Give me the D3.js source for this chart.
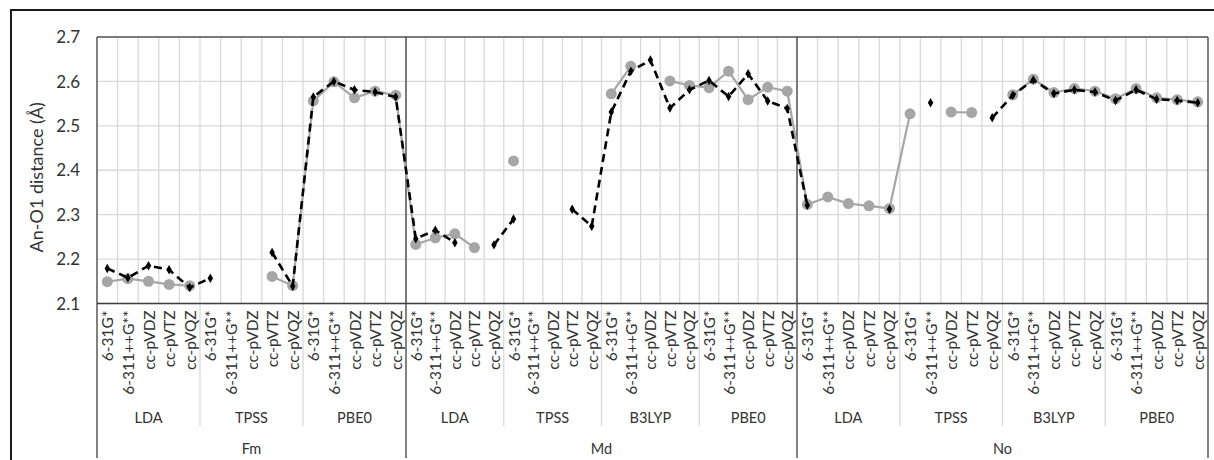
<!DOCTYPE html>
<html><head><meta charset="utf-8">
<script src="https://cdn.jsdelivr.net/npm/d3@7"></script>
<style>body{margin:0;background:#fff}svg{display:block}text{font-family:Lato,"Liberation Sans",sans-serif}</style>
</head><body><svg id="c" width="1214" height="460"></svg>
<script>
const elements = ["Fm", "Md", "No"];
const fmFunctionals = ["LDA", "TPSS", "PBE0"];
const mdFunctionals = ["LDA", "TPSS", "B3LYP", "PBE0"];
const noFunctionals = ["LDA", "TPSS", "B3LYP", "PBE0"];
const basisSets = ["6-31G*", "6-311++G**", "cc-pVDZ", "cc-pVTZ", "cc-pVQZ"];
const yTicks = [2.1, 2.2, 2.3, 2.4, 2.5, 2.6, 2.7];
const yTitle = "An-O1 distance (Å)";

// gray solid series (circles)
const seriesGray = [
  // Fm LDA, TPSS, PBE0
  2.149, 2.156, 2.150, 2.143, 2.140,
  null, null, null, 2.161, 2.140,
  2.556, 2.599, 2.563, 2.578, 2.569,
  // Md LDA, TPSS, B3LYP, PBE0
  2.233, 2.248, 2.257, 2.226, null,
  2.421, null, null, null, null,
  2.572, 2.634, null, 2.601, 2.591,
  2.586, 2.623, 2.559, 2.587, 2.578,
  // No LDA, TPSS, B3LYP, PBE0
  2.323, 2.340, 2.325, 2.320, 2.314,
  2.527, null, 2.531, 2.530, null,
  2.570, 2.605, 2.575, 2.584, 2.578,
  2.561, 2.584, 2.563, 2.559, 2.554
];
// black dashed series (small markers)
const seriesBlack = [
  2.179, 2.158, 2.185, 2.176, 2.136,
  2.157, null, null, 2.215, 2.139,
  2.565, 2.600, 2.581, 2.576, 2.565,
  2.246, 2.265, 2.237, null, 2.232,
  2.290, null, null, 2.312, 2.274,
  2.531, 2.623, 2.648, 2.540, 2.581,
  2.602, 2.566, 2.617, 2.556, 2.539,
  2.321, null, null, null, 2.312,
  null, 2.552, null, null, 2.518,
  2.569, 2.603, 2.573, 2.581, 2.576,
  2.557, 2.581, 2.560, 2.557, 2.552
];

const functionalsByElement = [fmFunctionals, mdFunctionals, noFunctionals];
const groups = [];
const cats = [];
functionalsByElement.forEach((fs, ei) => {
  fs.forEach(f => {
    groups.push({el: elements[ei], f, start: cats.length});
    basisSets.forEach(b => cats.push({el: elements[ei], f, b}));
  });
});
const N = cats.length;
const elemStarts = [0, 15, 35, 55];

const svg = d3.select("#c");
const x = d3.scaleLinear().domain(elemStarts).range([97, 406, 797, 1208]);
const y = d3.scaleLinear().domain([2.1, 2.7]).range([303.5, 37]);
const yTop = y(2.7), yBot = y(2.1);
const textCol = "#333333";

// outer frame
svg.append("path").attr("d", `M11,460 L11,10 L1214,10`).attr("fill", "none")
  .attr("stroke", "#1a1a1a").attr("stroke-width", 2);

// gridlines
const g = svg.append("g");
g.selectAll("line.h").data(yTicks).join("line")
  .attr("x1", x(0)).attr("x2", x(N)).attr("y1", d => y(d)).attr("y2", d => y(d))
  .attr("stroke", "#d9d9d9").attr("stroke-width", 1.3);
g.selectAll("line.v").data(d3.range(1, N)).join("line")
  .attr("x1", d => x(d)).attr("x2", d => x(d)).attr("y1", yTop).attr("y2", yBot)
  .attr("stroke", "#d9d9d9").attr("stroke-width", 1.3);

svg.append("line").attr("x1", x(0)).attr("x2", x(N)).attr("y1", yTop).attr("y2", yTop)
  .attr("stroke", "#595959").attr("stroke-width", 1.3);

// group separators in label area (light)
svg.selectAll("line.gs").data(groups.filter(d => !elemStarts.includes(d.start))).join("line")
  .attr("x1", d => x(d.start)).attr("x2", d => x(d.start)).attr("y1", yBot).attr("y2", 426)
  .attr("stroke", "#d9d9d9").attr("stroke-width", 1.3);
// element separators (dark)
svg.selectAll("line.es").data(elemStarts).join("line")
  .attr("x1", d => x(d)).attr("x2", d => x(d)).attr("y1", yTop).attr("y2", 458)
  .attr("stroke", "#404040").attr("stroke-width", 1.3);
svg.append("line").attr("x1", x(0)).attr("x2", x(N)).attr("y1", yBot).attr("y2", yBot)
  .attr("stroke", "#404040").attr("stroke-width", 1.3);

// y tick labels
svg.selectAll("text.yt").data(yTicks).join("text")
  .attr("x", 80).attr("y", d => y(d)).attr("dy", "0.36em").attr("text-anchor", "end")
  .attr("font-size", 17).attr("fill", textCol).text(d => d.toFixed(1));
svg.append("text").attr("transform", `translate(43,${(yTop + yBot) / 2 + 7}) rotate(-90)`)
  .attr("text-anchor", "middle").attr("font-size", 18).attr("fill", textCol).text(yTitle);

// basis labels
svg.selectAll("text.b").data(cats).join("text")
  .attr("transform", (d, i) => `translate(${x(i + 0.5) + 6},${yBot + 7}) rotate(-90)`)
  .attr("text-anchor", "end").attr("font-size", 15.5).attr("fill", textCol).text(d => d.b);
svg.selectAll("text.f").data(groups).join("text")
  .attr("x", d => x(d.start + 2.5)).attr("y", 422.5).attr("text-anchor", "middle")
  .attr("font-size", 14.5).attr("fill", textCol).text(d => d.f);
svg.selectAll("text.e").data(elements).join("text")
  .attr("x", (d, i) => (x(elemStarts[i]) + x(elemStarts[i + 1])) / 2).attr("y", 453.5)
  .attr("text-anchor", "middle").attr("font-size", 14.5).attr("fill", textCol).text(d => d);

// series
const line = d3.line().defined(d => d != null).x((d, i) => x(i + 0.5)).y(d => y(d));
svg.append("path").datum(seriesGray).attr("d", line).attr("fill", "none")
  .attr("stroke", "#a6a6a6").attr("stroke-width", 2.2);
svg.selectAll("circle.g").data(seriesGray.map((v, i) => ({v, i})).filter(d => d.v != null)).join("circle")
  .attr("cx", d => x(d.i + 0.5)).attr("cy", d => y(d.v)).attr("r", 5.5).attr("fill", "#a6a6a6");
svg.append("path").datum(seriesBlack).attr("d", line).attr("fill", "none")
  .attr("stroke", "#000").attr("stroke-width", 2.6).attr("stroke-dasharray", "8,5");
svg.selectAll("path.m").data(seriesBlack.map((v, i) => ({v, i})).filter(d => d.v != null)).join("path")
  .attr("d", d3.symbol(d3.symbolDiamond, 26)())
  .attr("transform", d => `translate(${x(d.i + 0.5)},${y(d.v)})`).attr("fill", "#000");
</script></body></html>
